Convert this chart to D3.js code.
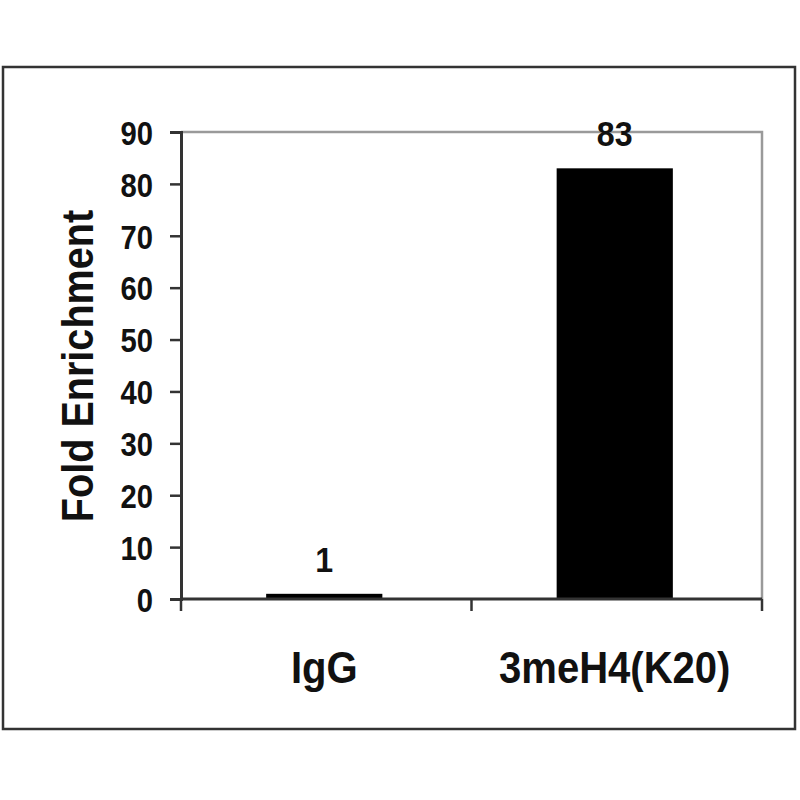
<!DOCTYPE html>
<html>
<head>
<meta charset="utf-8">
<script src="https://cdn.jsdelivr.net/npm/d3@7"></script>
<style>
  html, body { margin: 0; padding: 0; background: #fff; }
  svg { display: block; }
  text { font-family: "Liberation Sans", Arial, sans-serif; font-weight: bold; fill: #111; }
</style>
</head>
<body>
<svg id="chart" width="800" height="800"></svg>
<script>
const categories = ["IgG", "3meH4(K20)"];
const values = [1, 83];
const yTicks = [0, 10, 20, 30, 40, 50, 60, 70, 80, 90];
const yTitle = "Fold Enrichment";

const svg = d3.select("#chart");
const plot = { left: 181, right: 762, top: 132, bottom: 599 };

// outer frame
svg.append("rect")
  .attr("x", 3).attr("y", 67).attr("width", 792).attr("height", 662)
  .attr("fill", "#fff").attr("stroke", "#333").attr("stroke-width", 2.5);

const x = d3.scaleBand().domain(categories).range([plot.left, plot.right]).padding(0);
const y = d3.scaleLinear().domain([0, 90]).range([plot.bottom, plot.top]);

// plot area border (gray top & right)
svg.append("path")
  .attr("d", `M${plot.left},${plot.top}H${plot.right}V${plot.bottom}`)
  .attr("fill", "none").attr("stroke", "#9a9a9a").attr("stroke-width", 2.5);

// bars
const barFrac = 0.4;
svg.append("g").selectAll("rect").data(values).join("rect")
  .attr("x", (d, i) => x(categories[i]) + x.bandwidth() * (1 - barFrac) / 2 - 2)
  .attr("width", x.bandwidth() * barFrac)
  .attr("y", d => y(d))
  .attr("height", d => y(0) - y(d))
  .attr("fill", "#000");

// y axis
const yAxis = svg.append("g")
  .attr("transform", `translate(${plot.left},0)`)
  .call(d3.axisLeft(y).tickValues(yTicks).tickSize(11).tickSizeOuter(11).tickFormat(d3.format("d")));
yAxis.select(".domain").attr("stroke", "#333").attr("stroke-width", 3);
yAxis.selectAll(".tick line").attr("stroke", "#333").attr("stroke-width", 2.5);
yAxis.selectAll(".tick text")
  .attr("font-size", 34)
  .attr("font-family", "Liberation Sans, Arial, sans-serif")
  .attr("font-weight", "bold")
  .attr("fill", "#1a1a1a")
  .attr("x", -28 / 0.86)
  .attr("dy", "0.36em")
  .attr("transform", "scale(0.86,1)");

// x axis
const xAxis = svg.append("g")
  .attr("transform", `translate(0,${plot.bottom})`)
  .call(d3.axisBottom(x).tickSize(0).tickFormat(""));
xAxis.select(".domain").attr("stroke", "#333").attr("stroke-width", 3).attr("d", `M${plot.left},0H${plot.right}`);
// boundary tick marks between categories
const bounds = [plot.left, ...categories.slice(1).map(c => x(c)), plot.right];
xAxis.selectAll(".bt").data(bounds).join("line")
  .attr("x1", d => d).attr("x2", d => d)
  .attr("y1", 0).attr("y2", 12)
  .attr("stroke", "#333").attr("stroke-width", 2.5);

// category labels
svg.append("g").selectAll("text").data(categories).join("text")
  .attr("transform", d => `translate(${x(d) + x.bandwidth() / 2 - 2},683) scale(0.91,1)`)
  .attr("text-anchor", "middle")
  .attr("font-size", 44)
  .text(d => d);

// value labels
svg.append("g").selectAll("text").data(values).join("text")
  .attr("transform", (d, i) => `translate(${x(categories[i]) + x.bandwidth() / 2 - 2},${y(d) - 22}) scale(0.92,1)`)
  .attr("text-anchor", "middle")
  .attr("font-size", 35)
  .attr("fill", "#222")
  .text(d => d);

// y title
svg.append("text")
  .attr("transform", `translate(93,366) rotate(-90) scale(0.9,1)`)
  .attr("text-anchor", "middle")
  .attr("font-size", 44)
  .text(yTitle);
</script>
</body>
</html>
